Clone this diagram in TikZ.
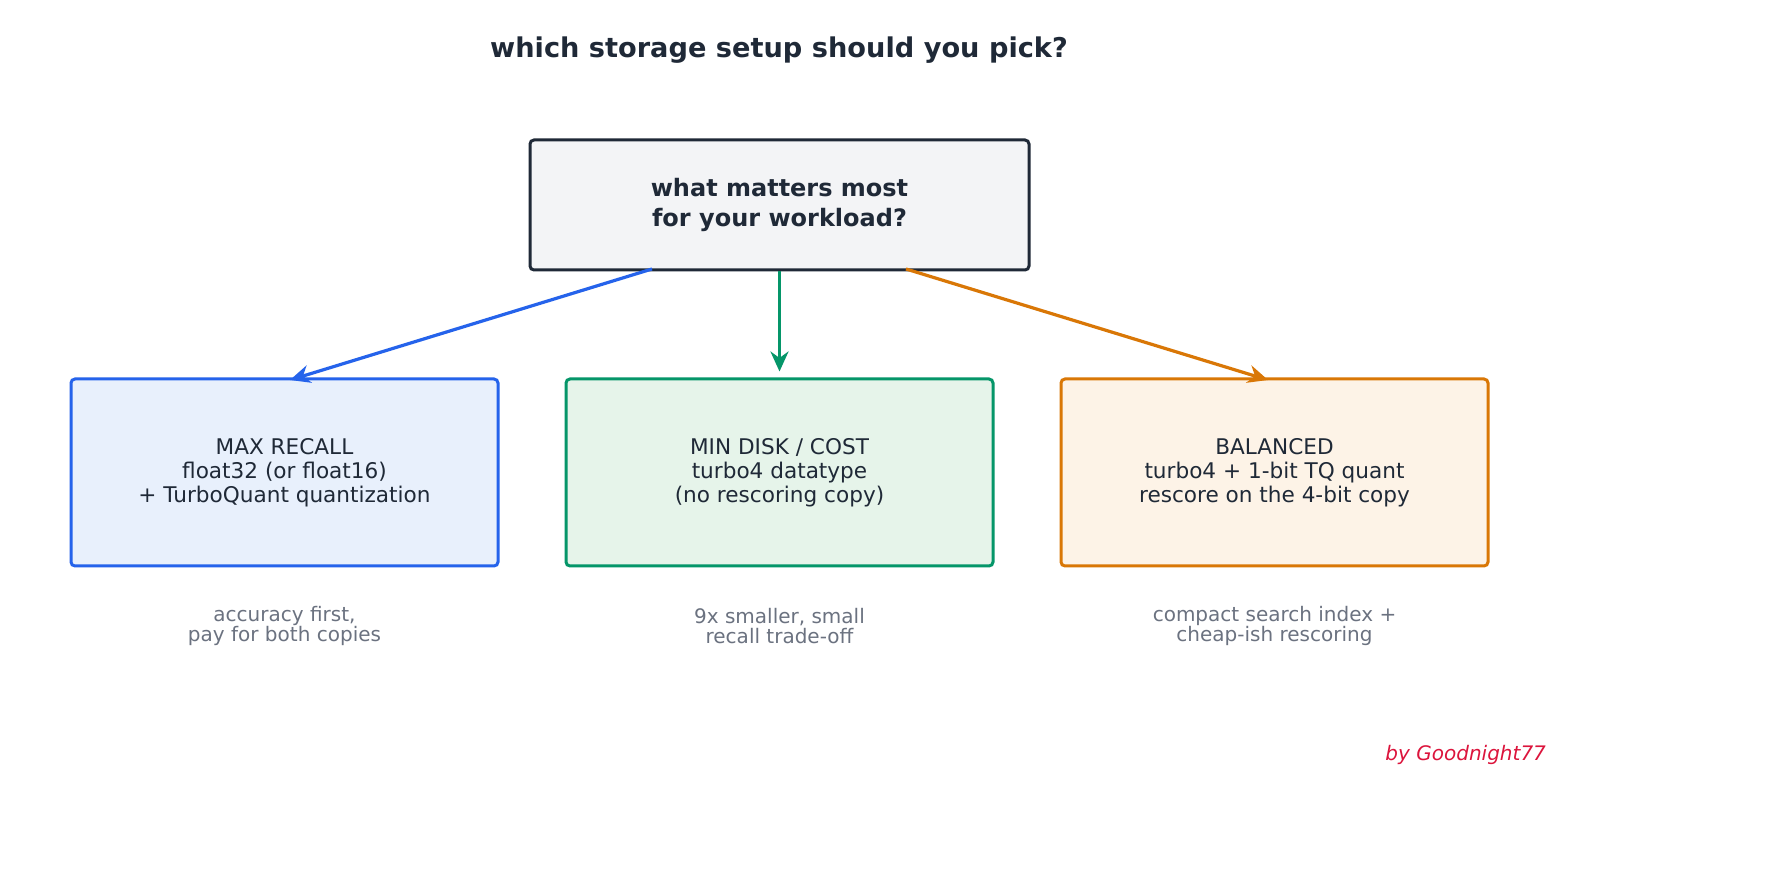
\documentclass[tikz,border=0pt]{standalone}
\usepackage{fontspec}
\setmainfont{DejaVu Sans}
\usetikzlibrary{arrows.meta}
\definecolor{dark}{HTML}{1F2937}
\definecolor{topfill}{HTML}{F3F4F6}
\definecolor{cblue}{HTML}{2563EB}
\definecolor{fblue}{HTML}{E8F0FC}
\definecolor{cgreen}{HTML}{059669}
\definecolor{fgreen}{HTML}{E6F4EA}
\definecolor{corange}{HTML}{D97706}
\definecolor{forange}{HTML}{FDF3E7}
\definecolor{cgray}{HTML}{6B7280}
\definecolor{crim}{HTML}{DC143C}
\begin{document}
\begin{tikzpicture}[x=0.5pt,y=-0.5pt,
  box/.style={draw, line width=1.5pt, rounded corners=2pt, align=center, inner sep=0pt},
  lbl/.style={align=center, font=\fontsize{10.8}{12}\selectfont, text=dark},
  captxt/.style={align=center, font=\fontsize{10}{10}\selectfont, text=cgray},
  arr/.style={line width=1.6pt, -{Stealth[length=10pt,width=9pt]}}]
\fill[white] (0,0) rectangle (1773,881);
\node[font=\bfseries\fontsize{13.6}{15}\selectfont, text=dark] (title) at (779,50) {which storage setup should you pick?};
\node[box, draw=dark, fill=topfill, minimum width=249.5pt, minimum height=65pt,
  font=\bfseries\fontsize{12}{15}\selectfont, text=dark] (top) at (779.5,205) {what matters most\\for your workload?};
\node[box, draw=cblue, fill=fblue, minimum width=213.5pt, minimum height=93.5pt] (b1) at (284.5,472.5) {};
\node[box, draw=cgreen, fill=fgreen, minimum width=213.5pt, minimum height=93.5pt] (b2) at (779.5,472.5) {};
\node[box, draw=corange, fill=forange, minimum width=213.5pt, minimum height=93.5pt] (b3) at (1274.5,472.5) {};
\node[lbl] (t1) at (b1) {MAX RECALL\\float32 (or float16)\\+ TurboQuant quantization};
\node[lbl] (t2) at (b2) {MIN DISK / COST\\turbo4 datatype\\(no rescoring copy)};
\node[lbl] (t3) at (b3) {BALANCED\\turbo4 + 1-bit TQ quant\\rescore on the 4-bit copy};
\node[captxt] (c1) at (284.5,626) {accuracy first,\\pay for both copies};
\node[captxt] (c2) at (779.5,626) {9x smaller, small\\recall trade-off};
\node[captxt] (c3) at (1274.5,626) {compact search index +\\cheap-ish rescoring};
\coordinate (s1) at (652,269); \coordinate (e1) at (290,380);
\coordinate (s3) at (906,269); \coordinate (e3) at (1268,380);
\draw[arr, cblue] (s1) -- (e1);
\draw[arr, cgreen] (top.south) -- ([yshift=3pt]b2.north);
\draw[arr, corange] (s3) -- (e3);
\node[anchor=east, font=\itshape\fontsize{10}{11}\selectfont, text=crim] (sig) at (1553,755) {by Goodnight77};
\pgfresetboundingbox
\useasboundingbox (0,0) rectangle (1773,881);
\end{tikzpicture}
\end{document}
